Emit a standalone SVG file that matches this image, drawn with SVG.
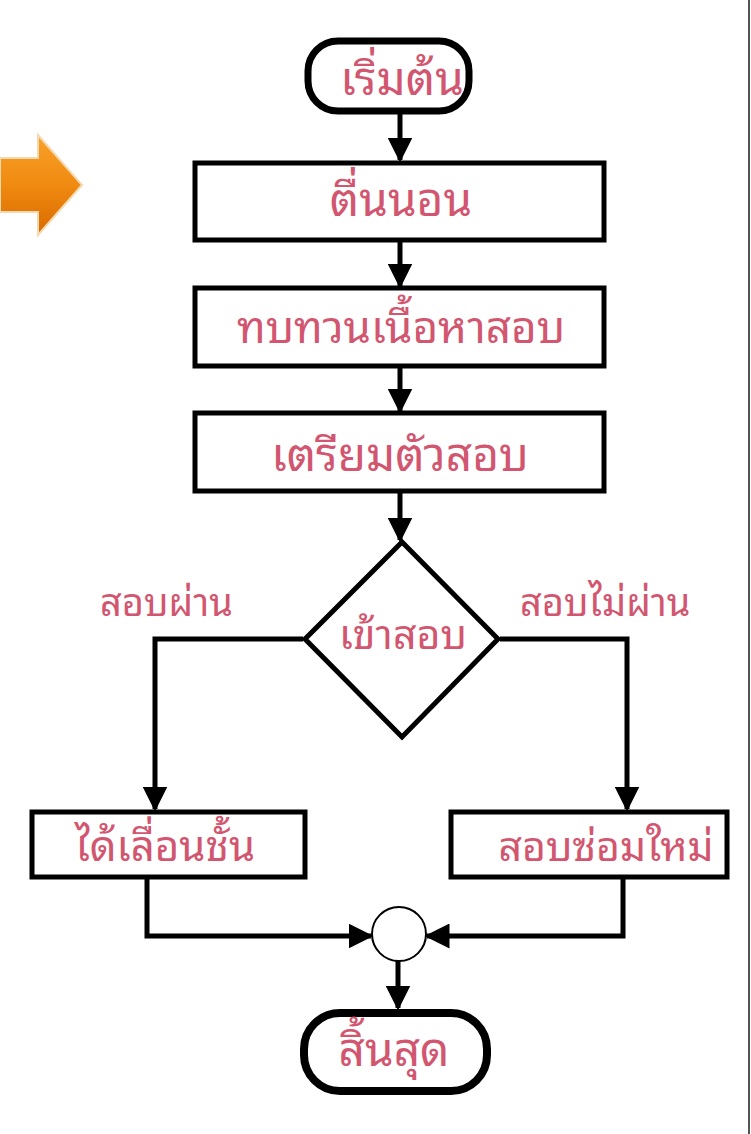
<svg xmlns="http://www.w3.org/2000/svg" width="751" height="1134" viewBox="0 0 751 1134">
<defs>
<style>
.box{fill:#fff;stroke:#000;stroke-width:5}
.term{fill:#fff;stroke:#000;stroke-width:7}
.t{font-family:"Noto Sans Thai Looped","Noto Sans","Noto Sans Thai","DejaVu Sans",sans-serif;font-size:46px;fill:#d2566f;text-anchor:middle}
.lbl{font-family:"Noto Sans Thai Looped","Noto Sans","Noto Sans Thai","DejaVu Sans",sans-serif;font-size:38px;fill:#d2566f}
.c{fill:none;stroke:#000;stroke-width:5}
</style>
<marker id="ah" viewBox="0 0 10 10" refX="9" refY="5" markerWidth="5" markerHeight="5" markerUnits="strokeWidth" orient="auto">
<path d="M0,0 L10,5 L0,10 z" fill="#000"/>
</marker>
<linearGradient id="og" x1="0" y1="0" x2="0" y2="1">
<stop offset="0" stop-color="#f9a12a"/>
<stop offset="0.5" stop-color="#f08a10"/>
<stop offset="1" stop-color="#d96a00"/>
</linearGradient>
</defs>
<rect width="751" height="1134" fill="#fff"/>
<line x1="749" y1="0" x2="749" y2="1134" stroke="#555" stroke-width="2"/>
<g id="deco-arrow">
<path d="M0,158 L38,158 L38,135 L82,185 L38,235 L38,212 L0,212 z" fill="url(#og)" stroke="#f3d9b0" stroke-width="2"/>
</g>
<g id="connectors">
<line class="c" x1="400" y1="112" x2="400" y2="160" marker-end="url(#ah)"/>
<line class="c" x1="400" y1="241" x2="400" y2="286" marker-end="url(#ah)"/>
<line class="c" x1="400" y1="367" x2="400" y2="411" marker-end="url(#ah)"/>
<line class="c" x1="400" y1="492" x2="400" y2="540" marker-end="url(#ah)"/>
<polyline class="c" points="303,639 155,639 155,809" marker-end="url(#ah)"/>
<polyline class="c" points="500,639 627,639 627,809" marker-end="url(#ah)"/>
<polyline class="c" points="147,877 147,936 371,936" marker-end="url(#ah)"/>
<polyline class="c" points="623,877 623,936 427,936" marker-end="url(#ah)"/>
<line class="c" x1="398" y1="961" x2="398" y2="1008" marker-end="url(#ah)"/>
</g>
<g id="start">
<rect class="term" x="308" y="41" width="161" height="70" rx="30" ry="30"/>
<text class="t" x="402" y="95">เริ่มต้น</text>
</g>
<g id="wake">
<rect class="box" x="195" y="163" width="409" height="77"/>
<text class="t" x="401" y="216">ตื่นนอน</text>
</g>
<g id="review">
<rect class="box" x="195" y="288" width="409" height="78"/>
<text class="t" x="401" y="343" style="font-size:44px">ทบทวนเนื้อหาสอบ</text>
</g>
<g id="prepare">
<rect class="box" x="195" y="413" width="409" height="78"/>
<text class="t" x="400" y="471">เตรียมตัวสอบ</text>
</g>
<g id="exam">
<polygon class="box" points="402,542 498,639 402,737 305,639"/>
<text class="t" x="403" y="649" style="font-size:41px">เข้าสอบ</text>
</g>
<g id="label-pass">
<text class="lbl" x="100" y="616">สอบผ่าน</text>
</g>
<g id="label-fail">
<text class="lbl" x="520" y="616">สอบไม่ผ่าน</text>
</g>
<g id="promote">
<rect class="box" x="32" y="812" width="273" height="65"/>
<text class="t" x="165" y="861" style="font-size:42px">ได้เลื่อนชั้น</text>
</g>
<g id="retake">
<rect class="box" x="451" y="812" width="276" height="65"/>
<text class="t" x="606" y="861" style="font-size:41px">สอบซ่อมใหม่</text>
</g>
<g id="merge">
<circle cx="399" cy="934" r="27" fill="#fff" stroke="#000" stroke-width="2"/>
</g>
<g id="end">
<rect class="term" x="304" y="1013" width="183" height="78" rx="36" ry="36" style="stroke-width:8"/>
<text class="t" x="394" y="1066">สิ้นสุด</text>
</g>
</svg>
